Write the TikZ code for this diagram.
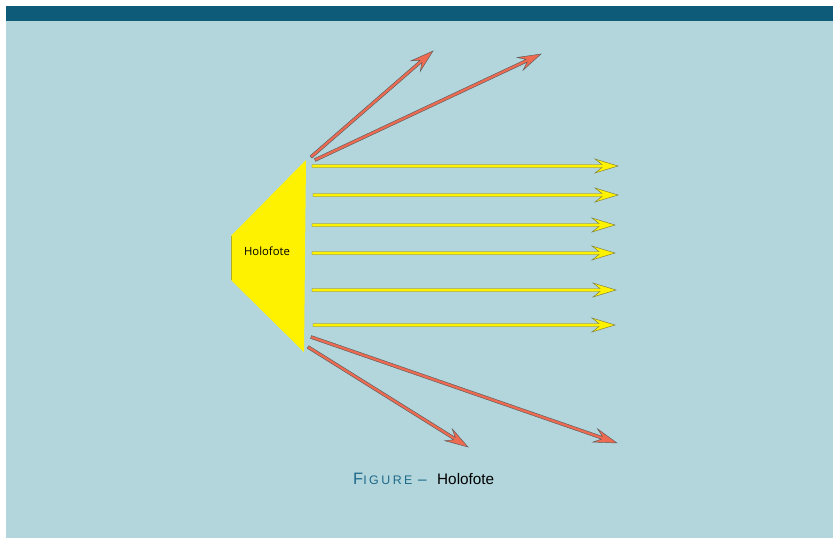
\documentclass[tikz,border=0pt]{standalone}
\usepackage{fontspec}
\setmainfont{Liberation Sans}
\newfontfamily\labelfont{Open Sans}
\usetikzlibrary{calc}
\definecolor{barblue}{HTML}{0E5A79}
\definecolor{bglight}{HTML}{B2D6DC}
\definecolor{arrowred}{HTML}{EE6A50}
\definecolor{edgegray}{HTML}{5A5A5A}
\definecolor{edgeolive}{HTML}{7A7A3A}
\definecolor{capblue}{HTML}{1E6A8A}
\newcommand\fatarrow[4]{%
  \path[fill=#1, draw=#2, line width=0.45pt, line join=miter]
    let \p1=($(#4)-(#3)$), \n1={atan2(\y1,\x1)}, \n2={veclen(\x1,\y1)} in
    {[shift={(#3)}, rotate=\n1]
     (0,-1.5) -- (\n2-16,-1.5) -- (\n2-23,-7) -- (\n2,0) -- (\n2-23,7)
     -- (\n2-16,1.5) -- (0,1.5) -- cycle};}
\begin{document}
\begin{tikzpicture}[x=1pt,y=-1pt]
\useasboundingbox (0,0) rectangle (836,538);
\fill[white] (0,0) rectangle (836,538);
\fill[bglight] (6,21) rectangle (833,538);
\fill[barblue] (6,6) rectangle (833,21);
% holofote
\fill[yellow] (231,236) -- (306,160) -- (304,352) -- (231,280) -- cycle;
\draw[edgeolive!60!yellow, line width=0.6pt] (231.3,236) -- (231.3,280);
\node[font=\labelfont\fontsize{11.3}{13}\selectfont, inner sep=0pt] (holo) at (267,251) {Holofote};
% yellow beams
\foreach \i/\ys/\xs/\xe in {1/166/312/618, 2/195/313/618, 3/225/312/615, 4/253/312/615, 5/290/312/616, 6/325/313/615}{
  \coordinate (ys\i) at (\xs,\ys);
  \coordinate (ye\i) at (\xe,\ys);
  \fatarrow{yellow}{edgeolive}{ys\i}{ye\i}
}
% red beams
\coordinate (rs1) at (311,157); \coordinate (re1) at (433,51);
\coordinate (rs2) at (315,160); \coordinate (re2) at (541,54);
\coordinate (rs3) at (311,337); \coordinate (re3) at (617,443);
\coordinate (rs4) at (308,347); \coordinate (re4) at (468,447);
\foreach \i in {1,...,4}{\fatarrow{arrowred}{edgegray}{rs\i}{re\i}}
% caption
\node[anchor=base west, inner sep=0pt, font=\fontsize{15.3}{17}\selectfont] (cap) at (353,484)
  {\textcolor{capblue}{\makebox[65pt][l]{{\fontsize{16.5}{18}\selectfont F}{\fontsize{12.4}{14}\selectfont\addfontfeature{LetterSpace=20}IGURE}}\makebox[19pt][l]{--}}Holofote};
\end{tikzpicture}
\end{document}
